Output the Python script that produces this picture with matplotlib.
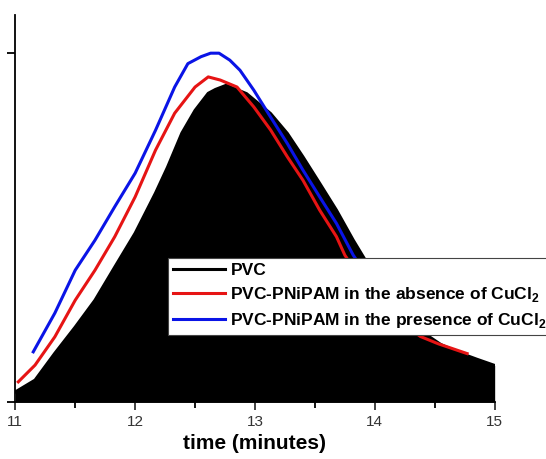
import matplotlib.pyplot as plt

plt.rcParams["font.family"] = ["Liberation Sans", "DejaVu Sans"]
plt.rcParams["mathtext.fontset"] = "custom"
plt.rcParams["mathtext.bf"] = "Liberation Sans:bold"
plt.rcParams["mathtext.rm"] = "Liberation Sans"

# PVC trace (filled black)
pvc_t = [11.0, 11.165, 11.33, 11.50, 11.665, 11.83, 12.0, 12.17, 12.27, 12.39,
         12.50, 12.61, 12.67, 12.76, 12.93, 13.13, 13.27, 13.40, 13.54, 13.68,
         13.82, 13.95, 14.10, 14.25, 14.40, 14.55, 14.70, 14.85, 15.0]
pvc_y = [0.029, 0.063, 0.14, 0.215, 0.292, 0.387, 0.484, 0.599, 0.673, 0.771,
         0.836, 0.885, 0.896, 0.908, 0.884, 0.827, 0.77, 0.703, 0.627, 0.55,
         0.464, 0.39, 0.32, 0.255, 0.20, 0.165, 0.142, 0.123, 0.105]

# PVC-PNiPAM without CuCl2 (red)
red_t = [11.025, 11.165, 11.33, 11.50, 11.665, 11.83, 12.0, 12.17, 12.33, 12.50,
         12.61, 12.71, 12.85, 12.99, 13.13, 13.27, 13.40, 13.54, 13.68, 13.75,
         13.90, 14.05, 14.20, 14.38, 14.53, 14.65, 14.77]
red_y = [0.058, 0.106, 0.187, 0.292, 0.378, 0.474, 0.588, 0.722, 0.828, 0.903,
         0.932, 0.923, 0.903, 0.846, 0.78, 0.703, 0.636, 0.55, 0.474, 0.421,
         0.345, 0.285, 0.235, 0.188, 0.167, 0.153, 0.139]

# PVC-PNiPAM with CuCl2 (blue)
blue_t = [11.15, 11.33, 11.50, 11.665, 11.83, 12.0, 12.17, 12.33, 12.44, 12.55,
          12.63, 12.70, 12.79, 12.875, 12.99, 13.13, 13.27, 13.40, 13.54, 13.68,
          13.82, 14.0]
blue_y = [0.144, 0.255, 0.378, 0.464, 0.56, 0.656, 0.779, 0.903, 0.97, 0.99,
          1.0, 1.0, 0.98, 0.951, 0.894, 0.817, 0.741, 0.665, 0.588, 0.512,
          0.421, 0.33]

labels = ["PVC",
          r"PVC-PNiPAM in the absence of CuCl$_\mathbf{2}$",
          r"PVC-PNiPAM in the presence of CuCl$_\mathbf{2}$"]

fig = plt.figure(figsize=(5.46, 4.59), dpi=100)
ax = fig.add_axes([0.028, 0.124, 0.878, 0.843])

ax.fill_between(pvc_t, 0, pvc_y, color="black", linewidth=0)
h1, = ax.plot(pvc_t, pvc_y, color="black", lw=2.2)
h3, = ax.plot(blue_t, blue_y, color="#0a14e6", lw=2.2)
h2, = ax.plot(red_t, red_y, color="#e61414", lw=2.2)

ax.set_xlim(11, 15)
ax.set_ylim(0, 1.109)
ax.set_xticks([11, 12, 13, 14, 15])
ax.set_xticks([11.5, 12.5, 13.5, 14.5], minor=True)
ax.set_yticks([0, 1])
ax.set_yticklabels([])
ax.tick_params(axis="both", which="both", direction="out", width=1.3)
ax.tick_params(axis="x", which="major", length=6, labelsize=11, colors="#333333", pad=3)
ax.tick_params(axis="x", which="minor", length=4)
ax.tick_params(axis="y", length=6)
for side in ["top", "right"]:
    ax.spines[side].set_visible(False)
for side in ["left", "bottom"]:
    ax.spines[side].set_linewidth(1.3)

ax.set_xlabel("time (minutes)", fontsize=15, fontweight="bold", labelpad=4)

leg = fig.legend([h1, h2, h3], labels, loc="upper left",
                 bbox_to_anchor=(168 / 546, 1 - 258 / 459),
                 prop={"weight": "bold", "size": 12.5}, frameon=True, fancybox=False,
                 edgecolor="#444444", framealpha=1, borderpad=0.3, handlelength=3.0,
                 handletextpad=0.3, labelspacing=0.4, borderaxespad=0)
leg.get_frame().set_linewidth(0.8)

fig.savefig("out.png", dpi=100)
